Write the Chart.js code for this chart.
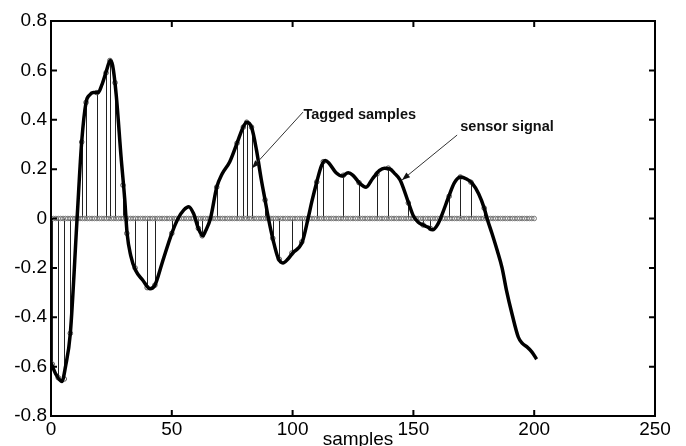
<!DOCTYPE html>
<html>
<head>
<meta charset="utf-8">
<script src="https://cdn.jsdelivr.net/npm/chart.js@4"></script>
<style>
html,body{margin:0;padding:0;background:#fff;}
#wrap{width:686px;height:446px;}
</style>
</head>
<body>
<div id="wrap"><canvas id="c" width="686" height="446"></canvas></div>
<script>
// ---- data ----
const signalX = [0,2,4.5,6,8,10.8,12.7,14.5,16,17.5,19.5,21,23,24.5,25.5,27,29,30.5,31.5,33,35,38,41,43,46,50,52.6,55,57,59,61,62.8,64,66,68.6,70.8,74,77,79.5,81,83,85,87,88.6,90,92,94,96,98,100,104,106.4,108,110,112,113.5,115,118,120.5,123,125,128,130.4,133,136,138,140.4,142,144.5,148,150,152,154,156,158,160,162,164.4,167,169.4,172,174.3,177,179.3,180.5,182.5,184.7,186.7,188.5,190.9,193.4,195,197,199,201];
const signalY = [-0.585,-0.63,-0.66,-0.6,-0.465,0,0.31,0.47,0.5,0.51,0.51,0.54,0.6,0.64,0.62,0.5,0.25,0.08,-0.06,-0.15,-0.21,-0.25,-0.285,-0.27,-0.18,-0.06,0,0.035,0.048,0.02,-0.04,-0.07,-0.05,0,0.127,0.18,0.23,0.305,0.37,0.39,0.37,0.28,0.16,0.075,0,-0.09,-0.16,-0.18,-0.165,-0.14,-0.095,0,0.07,0.148,0.215,0.235,0.225,0.185,0.172,0.185,0.175,0.14,0.127,0.16,0.195,0.204,0.2,0.185,0.156,0.063,0.01,-0.015,-0.026,-0.035,-0.046,-0.025,0.02,0.083,0.145,0.168,0.16,0.143,0.1,0.042,0,-0.06,-0.13,-0.2,-0.29,-0.39,-0.48,-0.505,-0.52,-0.54,-0.57];
const taggedX = [0.5,3,5.5,8,12.7,14.5,19,22.8,24.4,26.5,29.8,31.4,34.8,39.8,43,50,61,62.6,68.6,77,79.6,81,83,88.6,91.8,94.5,99.7,103.8,110,112.7,121,127.5,134.9,139.6,147.9,154,157,164.8,169.4,173.8,179.3];
const taggedY = [-0.59,-0.645,-0.65,-0.465,0.31,0.47,0.51,0.59,0.64,0.55,0.135,-0.06,-0.2,-0.28,-0.27,-0.06,-0.04,-0.07,0.127,0.305,0.37,0.39,0.37,0.075,-0.08,-0.165,-0.14,-0.095,0.148,0.23,0.175,0.145,0.18,0.204,0.063,-0.026,-0.04,0.09,0.168,0.147,0.042];
const sampleCount = 200;           // zero-valued stem markers at samples 1..200
const xTicks = [0,50,100,150,200,250];
const yTicks = [-0.8,-0.6,-0.4,-0.2,0,0.2,0.4,0.6,0.8];
const xTitle = 'samples';
const notes = [
  {text:'Tagged samples', tx:104.5, ty:0.419, fromX:104.3, fromY:0.431, toX:83.2, toY:0.204},
  {text:'sensor signal',  tx:169.4, ty:0.372, fromX:168.1, fromY:0.338, toX:145.3, toY:0.156}
];

// ---- build datasets ----
const signalPts = signalX.map((x,i)=>({x:x,y:signalY[i]}));
const taggedPts = taggedX.map((x,i)=>({x:x,y:taggedY[i]}));
const zeroPts = [];
for (let i=1;i<=sampleCount;i++) zeroPts.push({x:i,y:0});

const FONT = '"Liberation Sans", Arial, sans-serif';

const stemPlugin = {
  id:'stems',
  beforeDatasetsDraw(chart){
    const xs=chart.scales.x, ys=chart.scales.y, ctx=chart.ctx;
    const y0=ys.getPixelForValue(0);
    ctx.save();
    ctx.strokeStyle='#222';
    ctx.lineWidth=1;
    taggedPts.forEach(p=>{
      const px=Math.round(xs.getPixelForValue(p.x))+0.5;
      ctx.beginPath();
      ctx.moveTo(px,y0);
      ctx.lineTo(px,ys.getPixelForValue(p.y));
      ctx.stroke();
    });
    ctx.restore();
  }
};

const framePlugin = {
  id:'frame',
  afterDatasetsDraw(chart){
    const xs=chart.scales.x, ys=chart.scales.y, ctx=chart.ctx, a=chart.chartArea;
    ctx.save();
    // annotations
    ctx.strokeStyle='#333'; ctx.fillStyle='#111'; ctx.lineWidth=1;
    notes.forEach(n=>{
      const x1=xs.getPixelForValue(n.fromX), y1=ys.getPixelForValue(n.fromY);
      const x2=xs.getPixelForValue(n.toX), y2=ys.getPixelForValue(n.toY);
      ctx.beginPath(); ctx.moveTo(x1,y1); ctx.lineTo(x2,y2); ctx.stroke();
      const ang=Math.atan2(y2-y1,x2-x1), L=8, W=3;
      ctx.beginPath();
      ctx.moveTo(x2,y2);
      ctx.lineTo(x2-L*Math.cos(ang)+W*Math.sin(ang), y2-L*Math.sin(ang)-W*Math.cos(ang));
      ctx.lineTo(x2-L*Math.cos(ang)-W*Math.sin(ang), y2-L*Math.sin(ang)+W*Math.cos(ang));
      ctx.closePath(); ctx.fill();
      ctx.font='bold 14.5px '+FONT;
      ctx.textBaseline='middle'; ctx.textAlign='left';
      ctx.fillText(n.text, xs.getPixelForValue(n.tx), ys.getPixelForValue(n.ty));
    });
    // box
    ctx.strokeStyle='#000'; ctx.lineWidth=2;
    ctx.strokeRect(a.left,a.top,a.right-a.left,a.bottom-a.top);
    // inward ticks
    const T=6;
    ctx.lineWidth=2;
    xTicks.forEach(v=>{
      const px=xs.getPixelForValue(v);
      ctx.beginPath();
      ctx.moveTo(px,a.bottom); ctx.lineTo(px,a.bottom-T);
      ctx.moveTo(px,a.top); ctx.lineTo(px,a.top+T);
      ctx.stroke();
    });
    yTicks.forEach(v=>{
      const py=ys.getPixelForValue(v);
      ctx.beginPath();
      ctx.moveTo(a.left,py); ctx.lineTo(a.left+T,py);
      ctx.moveTo(a.right,py); ctx.lineTo(a.right-T,py);
      ctx.stroke();
    });
    // axis title
    ctx.fillStyle='#000';
    ctx.font='19px '+FONT;
    ctx.textAlign='center'; ctx.textBaseline='alphabetic';
    ctx.fillText(xTitle,(a.left+a.right)/2+5,445);
    ctx.restore();
  }
};

new Chart(document.getElementById('c'),{
  type:'scatter',
  data:{datasets:[
    {label:'sensor signal', type:'line', data:signalPts, borderColor:'#000', borderWidth:3.5,
     pointRadius:0, fill:false, cubicInterpolationMode:'monotone', order:1},
    {label:'tagged', data:taggedPts, pointStyle:'circle', pointRadius:2.3, borderColor:'#555',
     backgroundColor:'rgba(0,0,0,0)', borderWidth:1, order:2},
    {label:'zero', data:zeroPts, pointStyle:'circle', pointRadius:2.3, borderColor:'#777',
     backgroundColor:'rgba(0,0,0,0)', borderWidth:1, order:3}
  ]},
  options:{
    responsive:false, animation:false,
    layout:{padding:{top:21,right:31,left:0,bottom:0}},
    plugins:{legend:{display:false},tooltip:{enabled:false}},
    scales:{
      x:{type:'linear',min:0,max:250,
        afterBuildTicks(s){s.ticks=xTicks.map(v=>({value:v}));},
        afterFit(s){s.height=30;},
        grid:{display:false,drawTicks:false},border:{display:false},
        ticks:{color:'#000',font:{size:19,family:FONT},padding:2,maxRotation:0}},
      y:{type:'linear',min:-0.8,max:0.8,
        afterBuildTicks(s){s.ticks=yTicks.map(v=>({value:v}));},
        afterFit(s){s.width=51;},
        grid:{display:false,drawTicks:false},border:{display:false},
        ticks:{color:'#000',font:{size:19,family:FONT},padding:4,
          callback:v=>String(Math.round(v*10)/10)}}
    }
  },
  plugins:[stemPlugin,framePlugin]
});
</script>
</body>
</html>
